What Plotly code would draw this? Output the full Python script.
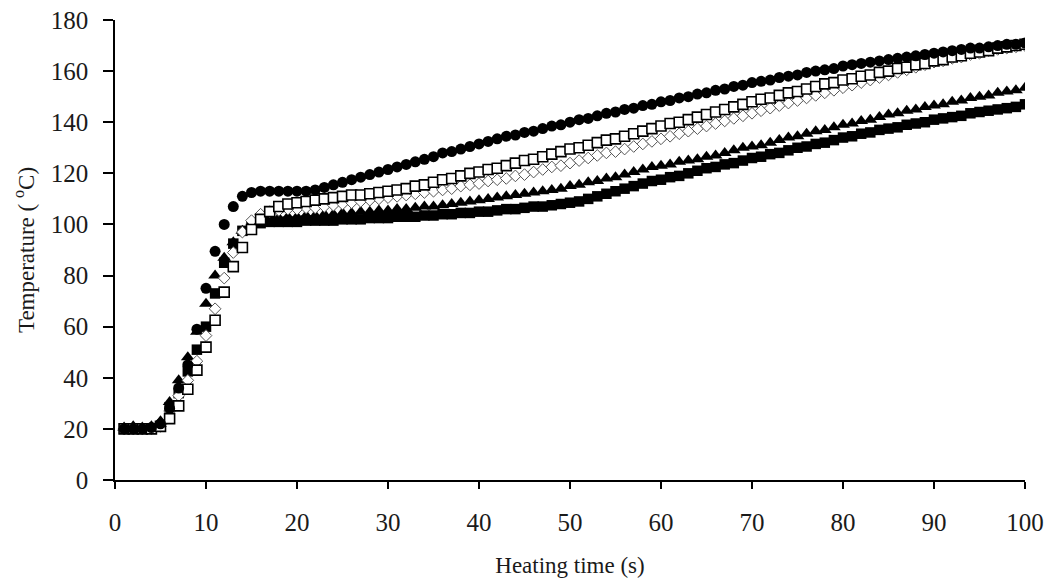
import plotly.graph_objects as go

time_s = list(range(1, 101))

circles = [20, 20, 20, 20.5, 22, 28, 36, 45, 59, 75,
           89.5, 100, 107, 111, 112.5, 113, 113, 113, 113, 113,
           113, 113.5, 114.5, 115.5, 116.5, 117.5, 118.5, 119.5, 120.5, 121.5,
           122.5, 123.5, 124.5, 125.5, 126.5, 128, 128.5, 129.5, 130.5, 131.5,
           132.5, 133.5, 134.5, 135, 136, 136.5, 137.5, 138.5, 139, 140,
           141, 141.5, 142.5, 143.5, 144, 145, 145.5, 146.5, 147, 148,
           148.5, 149.5, 150, 151, 151.5, 152.5, 153, 154, 154.5, 155.5,
           156, 156.5, 157.5, 158, 158.5, 159.5, 160, 160.5, 161, 162,
           162.5, 163, 163.5, 164, 164.5, 165, 165.5, 166, 166.5, 167,
           167.5, 168, 168.5, 169, 169, 169.5, 170, 170.5, 170.5, 171]

open_squares = [20, 20, 20, 20, 21, 24, 29, 35.5, 43, 52,
                62.5, 73.5, 83.5, 91, 98, 102, 105, 107, 108, 108.5,
                109, 109.5, 110, 110.5, 111, 111.5, 111.5, 112, 112.5, 113,
                113.5, 114, 115, 115.5, 116.5, 117.5, 118, 119, 120, 120.5,
                121.5, 122, 123, 124, 125, 125.5, 126.5, 127.5, 128.5, 129.5,
                130, 131, 132, 133, 133.5, 134.5, 135.5, 136.5, 137.5, 138.5,
                139.5, 140, 141, 142, 143, 144, 145, 146, 147, 148,
                149, 149.5, 150.5, 151.5, 152, 153, 154, 155, 155.5, 156.5,
                157, 158, 158.5, 159.5, 160, 161, 161.5, 162.5, 163, 164,
                164.5, 165.5, 166, 167, 167.5, 168, 169, 169.5, 170, 170.5]

open_diamonds = [20, 20, 20, 20, 21, 27, 33, 39, 46.5, 56.5,
                 67, 79, 89, 97, 101.5, 104, 105, 105.5, 106, 106,
                 106.5, 106.5, 107, 107.5, 108, 108.5, 109, 109.5, 110, 110.5,
                 111, 111.5, 112, 112.5, 113, 113.5, 114, 115, 115.5, 116,
                 117, 117.5, 118, 119, 119.5, 120.5, 121.5, 122.5, 123, 124,
                 125, 126, 127, 128, 128.5, 129.5, 130.5, 131.5, 132.5, 133.5,
                 134.5, 135.5, 136.5, 137.5, 138.5, 139.5, 140.5, 141.5, 142.5, 143.5,
                 144.5, 145.5, 146.5, 147.5, 148.5, 149.5, 150.5, 151.5, 152.5, 153.5,
                 154.5, 155.5, 156.5, 157.5, 158.5, 159.5, 160.5, 161.5, 162.5, 163.5,
                 164, 165, 165.5, 166.5, 167, 168, 168.5, 169, 169.5, 170]

triangles = [20.5, 21, 20.5, 21, 23, 30.5, 39, 48, 58, 69,
             80, 87, 93, 97.5, 100, 101.5, 102, 102.5, 103, 103,
             103.5, 103.5, 104, 104, 104.5, 104.5, 105, 105, 105.5, 105.5,
             106, 106, 106.5, 107, 107, 107.5, 108, 108.5, 109, 109.5,
             110, 110.5, 111, 111.5, 112, 112.5, 113, 113.5, 114, 115,
             115.5, 116.5, 117, 118, 118.5, 119.5, 120.5, 121.5, 122.5, 123,
             123.5, 124.5, 125, 125.5, 126.5, 127, 128, 129, 130, 130.5,
             131, 132, 133, 134, 134.5, 135.5, 136.5, 137, 138, 139,
             139.5, 140.5, 141, 142, 143, 143.5, 144.5, 145, 146, 146.5,
             147, 148, 148.5, 149.5, 150, 150.5, 151.5, 152, 152.5, 153.5]

filled_squares = [20, 20, 20, 20, 21, 28.5, 34, 42.5, 51, 60,
                  73, 85, 92.5, 97.5, 99.5, 100.5, 101, 101, 101, 101,
                  101.5, 101.5, 101.5, 101.5, 102, 102, 102, 102.5, 102.5, 102.5,
                  103, 103, 103, 103.5, 103.5, 104, 104, 104.5, 104.5, 105,
                  105, 105.5, 106, 106, 106.5, 107, 107, 107.5, 108, 108.5,
                  109, 110, 111, 112, 113, 114, 115, 116, 117, 117.5,
                  118.5, 119, 120, 121, 122, 122.5, 123.5, 124, 125, 126,
                  126.5, 127.5, 128, 129, 130, 130.5, 131.5, 132, 133, 134,
                  134.5, 135.5, 136, 137, 137.5, 138, 139, 139.5, 140, 141,
                  141.5, 142, 142.5, 143.5, 144, 144.5, 145, 145.5, 146, 147]

x_ticks = [0, 10, 20, 30, 40, 50, 60, 70, 80, 90, 100]
y_ticks = [0, 20, 40, 60, 80, 100, 120, 140, 160, 180]

FONT = "Liberation Serif, Times New Roman, serif"
TXT = "#1a1a1a"

fig = go.Figure()
fig.add_trace(go.Scatter(x=time_s, y=filled_squares, mode="markers",
                         marker=dict(symbol="square", size=10.5, color="black",
                                     line=dict(width=0))))
fig.add_trace(go.Scatter(x=time_s, y=triangles, mode="markers",
                         marker=dict(symbol="triangle-up", size=12, color="black",
                                     line=dict(width=0))))
fig.add_trace(go.Scatter(x=time_s, y=open_diamonds, mode="markers",
                         marker=dict(symbol="diamond", size=9, color="white",
                                     line=dict(width=1, color="#555555"))))
fig.add_trace(go.Scatter(x=time_s, y=open_squares, mode="markers",
                         marker=dict(symbol="square", size=10, color="white",
                                     line=dict(width=1.6, color="black"))))
fig.add_trace(go.Scatter(x=time_s, y=circles, mode="markers",
                         marker=dict(symbol="circle", size=11, color="black",
                                     line=dict(width=0))))

fig.update_layout(
    width=1053, height=584,
    margin=dict(l=115, r=28, t=20, b=104, autoexpand=False),
    paper_bgcolor="white", plot_bgcolor="white",
    showlegend=False,
    font=dict(family=FONT, size=24, color=TXT),
)
fig.update_xaxes(
    range=[0, 100], tickvals=x_ticks, ticktext=[str(v) for v in x_ticks],
    showgrid=False, zeroline=False, showline=True, linecolor="black", linewidth=1.5,
    ticks="outside", ticklen=7, tickwidth=1.5, tickcolor="black",
    ticklabelstandoff=12, automargin=False,
    tickfont=dict(family=FONT, size=25, color=TXT),
    title=dict(text="Heating time (s)", font=dict(family=FONT, size=23, color=TXT),
               standoff=22),
)
fig.update_yaxes(
    range=[0, 180], tickvals=y_ticks, ticktext=[str(v) for v in y_ticks],
    showgrid=False, zeroline=False, showline=True, linecolor="black", linewidth=1.5,
    ticks="outside", ticklen=10, tickwidth=1.5, tickcolor="black",
    ticklabelstandoff=10, automargin=False,
    tickfont=dict(family=FONT, size=25, color=TXT),
    title=dict(text="Temperature ( <sup>o</sup>C)", font=dict(family=FONT, size=23, color=TXT),
               standoff=10),
)

fig.write_html("out.html", config={"displayModeBar": False},
               post_script="document.body.style.margin='0';")
